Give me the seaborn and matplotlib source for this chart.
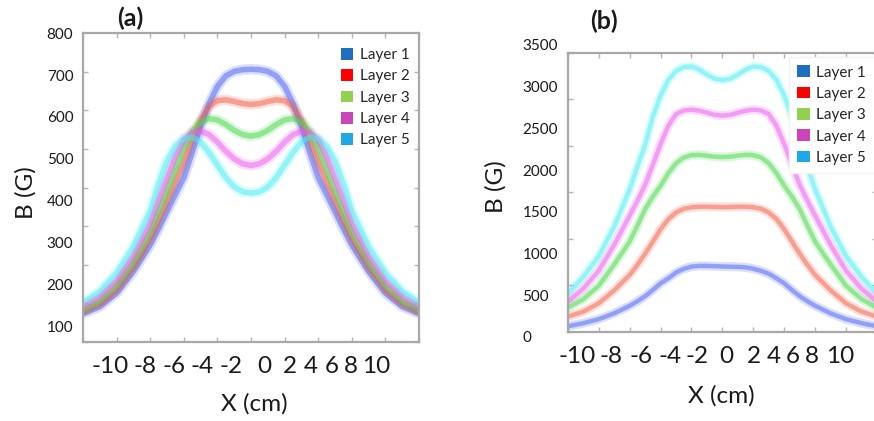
import numpy as np
import pandas as pd
import seaborn as sns
import matplotlib
matplotlib.use("Agg")
import matplotlib.pyplot as plt
from matplotlib.patches import Patch

# ---------------- data ----------------
x_cm = [-10, -9, -8, -7, -6, -5.5, -5, -4.5, -4, -3.5, -3, -2.5, -2, -1.5, -1, -0.5, 0,
        0.5, 1, 1.5, 2, 2.5, 3, 3.5, 4, 4.5, 5, 5.5, 6, 7, 8, 9, 10]
layers = ["Layer 1", "Layer 2", "Layer 3", "Layer 4", "Layer 5"]

# panel (a)
a_layer1 = [130, 147, 179, 231, 294, 333, 374, 415, 455, 515, 578, 632, 673, 698, 709, 713, 714,
            713, 709, 698, 673, 632, 578, 515, 455, 415, 374, 333, 294, 231, 179, 147, 130]
a_layer2 = [134, 153, 187, 241, 309, 353, 398, 445, 492, 545, 592, 625, 639, 641, 637, 632, 630,
            632, 637, 641, 639, 625, 592, 545, 492, 445, 398, 353, 309, 241, 187, 153, 134]
a_layer3 = [138, 160, 197, 252, 325, 373, 423, 475, 525, 565, 588, 596, 593, 582, 568, 558, 554,
            558, 568, 582, 593, 596, 588, 565, 525, 475, 423, 373, 325, 252, 197, 160, 138]
a_layer4 = [146, 170, 208, 266, 345, 400, 453, 505, 545, 563, 566, 558, 540, 518, 500, 488, 484,
            488, 500, 518, 540, 558, 566, 563, 545, 505, 453, 400, 345, 266, 208, 170, 146]
a_layer5 = [156, 183, 227, 290, 375, 440, 495, 530, 548, 552, 540, 515, 485, 455, 433, 421, 418,
            421, 433, 455, 485, 515, 540, 552, 548, 530, 495, 440, 375, 290, 227, 183, 156]

# panel (b)
b_layer1 = [125, 162, 210, 280, 370, 425, 485, 560, 640, 700, 770, 815, 840, 850, 850, 846, 842,
            840, 838, 832, 815, 790, 755, 700, 640, 560, 485, 425, 370, 280, 210, 162, 125]
b_layer2 = [240, 300, 400, 555, 740, 860, 995, 1140, 1288, 1410, 1490, 1535, 1553, 1560, 1560, 1557, 1555,
            1557, 1560, 1560, 1553, 1535, 1490, 1410, 1288, 1140, 995, 860, 740, 555, 400, 300, 240]
b_layer3 = [345, 450, 610, 865, 1140, 1330, 1530, 1680, 1810, 1960, 2080, 2150, 2178, 2182, 2172, 2160, 2155,
            2160, 2172, 2182, 2178, 2150, 2080, 1960, 1810, 1680, 1530, 1330, 1140, 865, 610, 450, 345]
b_layer4 = [420, 575, 790, 1100, 1450, 1630, 1820, 2060, 2310, 2530, 2670, 2715, 2725, 2712, 2688, 2662, 2652,
            2662, 2688, 2712, 2725, 2715, 2670, 2530, 2310, 2060, 1820, 1630, 1450, 1100, 790, 575, 420]
b_layer5 = [515, 717, 965, 1320, 1765, 2040, 2300, 2640, 2890, 3080, 3188, 3235, 3242, 3205, 3145, 3095, 3078,
            3095, 3145, 3205, 3242, 3235, 3188, 3080, 2890, 2640, 2300, 2040, 1765, 1320, 965, 717, 515]

a_yticks = [100, 200, 300, 400, 500, 600, 700, 800]
b_yticks = [0, 500, 1000, 1500, 2000, 2500, 3000, 3500]
x_ticklabels = ["-10", "-8", "-6", "-4", "-2", "0", "2", "4", "6", "8", "10"]
# where the x labels sit (in axis units), as printed in the reference
a_xlabel_pos = [-8.39, -6.31, -4.58, -2.89, -1.19, 0.77, 2.32, 3.57, 4.82, 5.95, 7.44]
b_xlabel_pos = [-9.40, -7.20, -5.26, -3.39, -1.64, 0.27, 2.05, 3.31, 4.57, 5.80, 7.63]

line_colors = ["#4a62f2", "#f2604a", "#4ad84a", "#ec5cec", "#4aeef2"]
legend_colors = ["#1f6fc0", "#ff0000", "#92d050", "#cc44bb", "#1fa8e8"]


def long_df(series):
    rows = []
    for name, vals in zip(layers, series):
        for xv, yv in zip(x_cm, vals):
            rows.append((xv, yv, name))
    return pd.DataFrame(rows, columns=["x", "B", "layer"])


df_a = long_df([a_layer1, a_layer2, a_layer3, a_layer4, a_layer5])
df_b = long_df([b_layer1, b_layer2, b_layer3, b_layer4, b_layer5])

# ---------------- style ----------------
sns.set_style("white")
plt.rcParams["font.family"] = ["Lato", "DejaVu Sans"]
W, H = 874, 421
fig = plt.figure(figsize=(W / 100, H / 100), dpi=100)


def fx(px):
    return px / W


def fy(py):
    return 1 - py / H


pal = dict(zip(layers, line_colors))
spine_col = "#a8a8a8"
text_col = "#1a1a1a"


def draw_lines(ax, df, wide, core):
    sns.lineplot(data=df, x="x", y="B", hue="layer", palette=pal, ax=ax,
                 legend=False, lw=wide, alpha=0.2, sort=False)
    sns.lineplot(data=df, x="x", y="B", hue="layer", palette=pal, ax=ax,
                 legend=False, lw=core, alpha=0.5, sort=False)


def style_axes(ax, xlabel_pos, ytick_vals, ymin_frame, ymax_frame, n_ydiv):
    ax.set_xlim(-10, 10)
    for s in ax.spines.values():
        s.set_color(spine_col)
        s.set_linewidth(1.6)
    ax.set_xticks(xlabel_pos)
    ax.set_xticklabels(x_ticklabels, fontsize=17.5, color=text_col)
    ax.set_xticks(list(range(-10, 11, 2)), minor=True)
    ax.set_yticks(ytick_vals)
    ax.set_yticklabels([str(v) for v in ytick_vals], fontsize=11, color=text_col)
    ax.set_yticks(np.linspace(ymin_frame, ymax_frame, n_ydiv + 1), minor=True)
    ax.tick_params(which="major", length=0)
    ax.tick_params(axis="x", which="major", pad=10)
    ax.tick_params(which="minor", direction="in", length=3.5, width=1.0,
                   color="#b4b4b4", top=True, bottom=True, left=True, right=True)
    ax.set_xlabel("")
    ax.set_ylabel("")


leg_kw = dict(loc="upper left", bbox_transform=fig.transFigure, borderaxespad=0,
              fontsize=11, handlelength=0.8, handleheight=0.8, handletextpad=0.45,
              labelspacing=0.47)

# ---------------- panel (a) ----------------
ax_a = fig.add_axes([fx(83), fy(342), fx(419 - 83), (342 - 33.3) / H])
draw_lines(ax_a, df_a, 7.5, 4.0)
ax_a.set_ylim(62, 800)
style_axes(ax_a, a_xlabel_pos, a_yticks, 62, 800, 8)
ax_a.tick_params(axis="y", which="major", pad=7)
ax_a.set_xlabel("X (cm)", fontsize=17.5, color=text_col)
ax_a.xaxis.set_label_coords(fx(254), fy(404), transform=fig.transFigure)
ax_a.xaxis.label.set_va("center")
ax_a.set_ylabel("B (G)", fontsize=17.5, color=text_col)
ax_a.yaxis.set_label_coords(fx(26), fy(193), transform=fig.transFigure)
ax_a.yaxis.label.set_va("center")
handles = [Patch(facecolor=c, edgecolor="none", label=l) for c, l in zip(legend_colors, layers)]
ax_a.legend(handles=handles, bbox_to_anchor=(fx(341), fy(48)), frameon=False,
            borderpad=0, **leg_kw)
fig.text(fx(130), fy(18), "(a)", ha="center", va="center", fontsize=18,
         fontweight="bold", color=text_col)

# ---------------- panel (b) ----------------
# axes box spans the printed labels (0 .. 3500); the drawn frame sits at 60 .. 3404
ax_b = fig.add_axes([fx(567.7), fy(336.7), (877.1 - 567.7) / W, (336.7 - 45) / H])
draw_lines(ax_b, df_b, 6.5, 3.2)
ax_b.set_ylim(0, 3500)
ax_b.patch.set_alpha(0)
ax_b.spines["bottom"].set_position(("data", 60))
ax_b.spines["top"].set_position(("data", 3404))
style_axes(ax_b, b_xlabel_pos, b_yticks, 60, 3404, 6)
ax_b.spines["left"].set_bounds(60, 3404)
ax_b.spines["right"].set_bounds(60, 3404)
ax_b.tick_params(axis="y", which="major", pad=32.5)
for t in ax_b.get_yticklabels():
    t.set_horizontalalignment("left")
ax_b.set_xlabel("X (cm)", fontsize=17.5, color=text_col)
ax_b.xaxis.set_label_coords(fx(721), fy(396), transform=fig.transFigure)
ax_b.xaxis.label.set_va("center")
ax_b.set_ylabel("B (G)", fontsize=17.5, color=text_col)
ax_b.yaxis.set_label_coords(fx(496), fy(187), transform=fig.transFigure)
ax_b.yaxis.label.set_va("center")
leg_b = ax_b.legend(handles=handles, bbox_to_anchor=(fx(789), fy(57)), frameon=True,
                    borderpad=0.55, fancybox=False, **leg_kw)
leg_b.get_frame().set_facecolor("white")
leg_b.get_frame().set_edgecolor("#f2f2f2")
leg_b.get_frame().set_alpha(1.0)
fig.text(fx(604), fy(21), "(b)", ha="center", va="center", fontsize=18,
         fontweight="bold", color=text_col)

fig.savefig("out.png", dpi=100)
